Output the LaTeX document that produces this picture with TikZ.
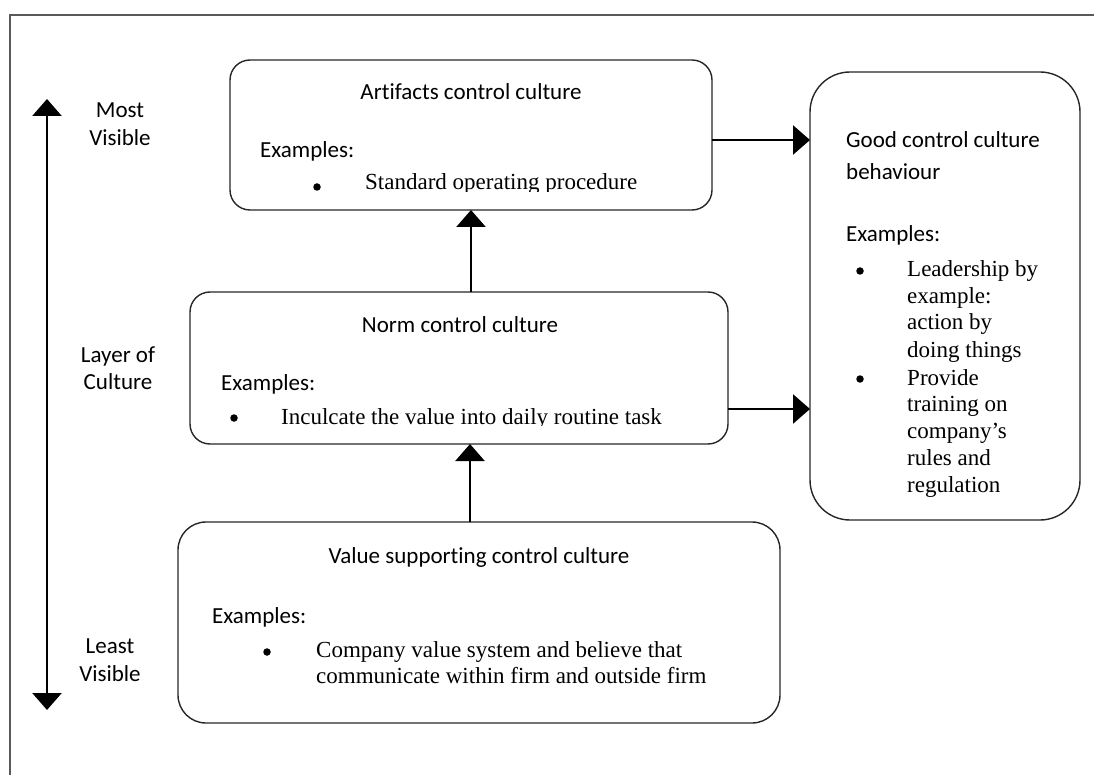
\documentclass[tikz,border=0pt]{standalone}
\usepackage{fontspec}
\newfontfamily\calfont[Ligatures={NoCommon}]{Carlito}
\newfontfamily\tnrfont{Liberation Serif}
\usetikzlibrary{arrows.meta}
\begin{document}
\begin{tikzpicture}[x=1pt,y=-1pt,
  box/.style={draw=black!85,line width=1.4pt,rounded corners=#1,inner sep=0pt,outer sep=0pt},
  conn/.style={line width=2.6pt,-{Triangle[length=17pt,width=29pt]}},
  sans/.style={font=\calfont\fontsize{23}{28}\selectfont,inner sep=0pt,anchor=base},
  sansl/.style={sans,anchor=base west},
  serifl/.style={font=\tnrfont\fontsize{23}{27}\selectfont,inner sep=0pt,anchor=base west},
  bul/.style={circle,fill=black,inner sep=0pt,minimum size=7.5pt},
  frame/.style={draw=black!65,line width=1.3pt}]
\useasboundingbox (0,0) rectangle (1094,775);
\draw[frame] (1094,15) -- (10,15) -- (10,775);

% boxes
\node[box=20pt,minimum width=482pt,minimum height=150pt] (art) at (471,135) {};
\node[box=20pt,minimum width=538pt,minimum height=152pt] (norm) at (459,368) {};
\node[box=28pt,minimum width=602pt,minimum height=201pt] (val) at (479,622.5) {};
\node[box=40pt,minimum width=270pt,minimum height=448pt] (good) at (945,296) {};

% left axis
\coordinate (axtop) at (47,99);
\coordinate (axbot) at (47,710);
\draw[line width=2.6pt,{Triangle[length=17pt,width=29pt]}-{Triangle[length=17pt,width=29pt]}] (axtop) -- (axbot);
\node[sans] (most) at (120,118) {Most};
\node[sans] (vis1) at (120,146) {Visible};
\node[sans] (layer) at (118,362) {Layer of};
\node[sans] (cult) at (118,389) {Culture};
\node[sans] (least) at (110,653) {Least};
\node[sans] (vis2) at (110,681) {Visible};

% artifacts
\node[sans] (artT) at (471,100) {Artifacts control culture};
\node[sansl] (artE) at (260,158) {Examples:};
\node[bul] (artB) at (317,187) {};
\begin{scope}
\clip (0,0) rectangle (1094,191.5);
\node[serifl] (artX) at (365,190) {Standard operating procedure};
\end{scope}

% norm
\node[sans] (normT) at (460,332) {Norm control culture};
\node[sansl] (normE) at (221,390) {Examples:};
\node[bul] (normB) at (234,418) {};
\begin{scope}
\clip (0,0) rectangle (1094,425.5);
\node[serifl] (normX) at (281,424) {Inculcate the value into daily routine task};
\end{scope}

% value
\node[sans] (valT) at (479,563) {Value supporting control culture};
\node[sansl] (valE) at (212,623) {Examples:};
\node[bul] (valB) at (267,652) {};
\node[serifl] (valX1) at (316,657) {Company value system and believe that};
\node[serifl] (valX2) at (316,683) {communicate within firm and outside firm};

% good
\node[sansl] (goodT1) at (846,148) {Good control culture};
\node[sansl] (goodT2) at (846,180) {behaviour};
\node[sansl] (goodE) at (846,242) {Examples:};
\node[bul] (goodB1) at (860,271) {};
\node[bul] (goodB2) at (860,379) {};
\node[serifl] (g1) at (907,277) {Leadership by};
\node[serifl] (g2) at (907,303.5) {example:};
\node[serifl] (g3) at (907,330) {action by};
\node[serifl] (g4) at (907,357) {doing things};
\node[serifl] (g5) at (907,385) {Provide};
\node[serifl] (g6) at (907,411.5) {training on};
\node[serifl] (g7) at (907,438) {company’s};
\node[serifl] (g8) at (907,465) {rules and};
\node[serifl] (g9) at (907,492) {regulation};

% connectors
\draw[conn] ([yshift=-5pt]art.east) -- ([yshift=-5pt]art.east -| good.west);
\draw[conn] ([yshift=-41pt]norm.east) -- ([yshift=-41pt]norm.east -| good.west);
\draw[conn] ([xshift=12pt]norm.north) -- ([xshift=12pt]norm.north |- art.south);
\draw[conn] ([xshift=-9pt]val.north) -- ([xshift=-9pt]val.north |- norm.south);
\end{tikzpicture}
\end{document}
